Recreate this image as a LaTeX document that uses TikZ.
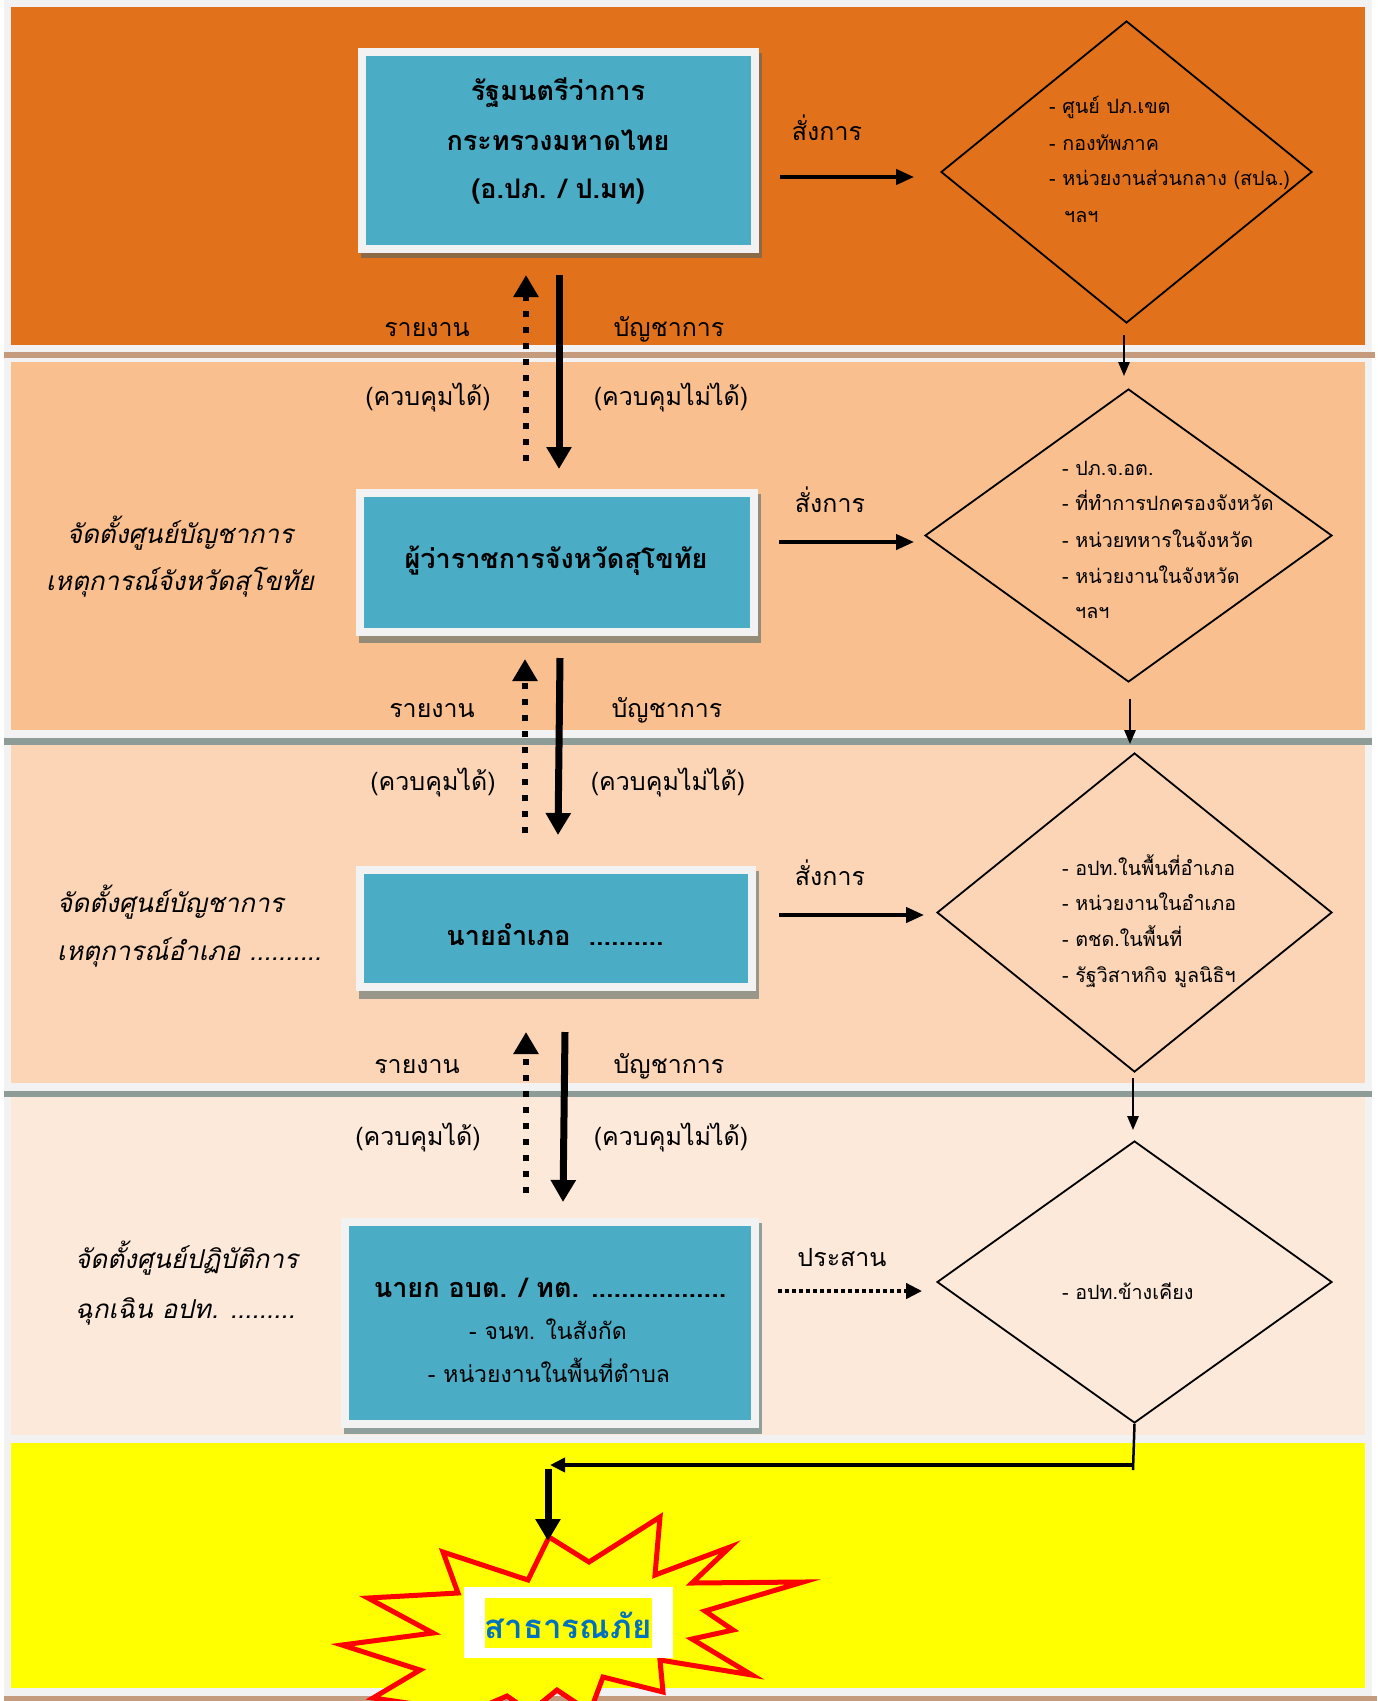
\documentclass[tikz,border=0pt]{standalone}
\usepackage{fontspec}
\setmainfont[Script=Thai]{Loma}
\usetikzlibrary{arrows.meta,shapes.geometric,calc}
\definecolor{bandA}{HTML}{E1711A}
\definecolor{bandB}{HTML}{F9BF8F}
\definecolor{bandC}{HTML}{FBD5B5}
\definecolor{bandD}{HTML}{FDE9D9}
\definecolor{bandE}{HTML}{FFFF00}
\definecolor{framec}{HTML}{F2F2F2}
\definecolor{shadbrown}{HTML}{C49B7C}
\definecolor{shadgray}{HTML}{8E9C98}
\definecolor{boxblue}{HTML}{4BACC6}
\definecolor{bshA}{HTML}{8C6A48}
\definecolor{bshB}{HTML}{958C78}
\definecolor{bshC}{HTML}{98978A}
\definecolor{bshD}{HTML}{8E9F9C}
\definecolor{starblue}{HTML}{0070C0}
\definecolor{starred}{HTML}{FF0000}
\begin{document}
\begin{tikzpicture}[x=1pt,y=-1pt,
  bluebox/.style={draw=framec, line width=8pt, fill=boxblue, inner sep=0pt},
  dia/.style={diamond, draw=black, line width=1.8pt, inner sep=0pt},
  boxtxt/.style={anchor=base, inner sep=0pt, font=\fontsize{27}{32}\selectfont\bfseries},
  subtxt/.style={anchor=base, inner sep=0pt, font=\fontsize{23}{27}\selectfont},
  lbl/.style={anchor=base, inner sep=0pt, font=\fontsize{25}{29}\selectfont},
  dtxt/.style={anchor=base west, inner sep=0pt, font=\fontsize{19.7}{23}\selectfont},
  sidec/.style={anchor=base, inner sep=0pt, font=\fontsize{26}{30}\selectfont\itshape},
  sidel/.style={anchor=base west, inner sep=0pt, font=\fontsize{26}{30}\selectfont\itshape},
  cmdarr/.style={line width=4pt, -{Triangle[length=18pt,width=15pt]}},
  coordarr/.style={line width=4pt, dash pattern=on 4pt off 3pt, -{Triangle[length=16pt,width=15pt]}},
  vcmd/.style={line width=7pt, -{Triangle[length=22pt,width=24pt]}},
  vrep/.style={line width=6pt, dash pattern=on 6pt off 10pt, -{Triangle[length=22pt,width=24pt]}},
  darr/.style={line width=2.5pt, -{Triangle[length=14pt,width=11pt]}}
]
\useasboundingbox (0,0) rectangle (1377,1701);
\clip (0,0) rectangle (1377,1701);
\fill[white] (0,0) rectangle (1377,1701);
% bands
\fill[framec] (4,0) rectangle (1372,352);
\fill[bandA] (11,7) rectangle (1365,345);
\fill[shadbrown] (4,352) rectangle (1375,358);
\fill[framec] (4,358) rectangle (1372,738);
\fill[bandB] (11,362) rectangle (1365,730);
\fill[shadgray] (4,738) rectangle (1372,745);
\fill[framec] (4,745) rectangle (1372,1091);
\fill[bandC] (11,745) rectangle (1365,1083);
\fill[shadgray] (4,1091) rectangle (1372,1097);
\fill[framec] (4,1097) rectangle (1372,1443);
\fill[bandD] (11,1097) rectangle (1365,1435);
\fill[framec] (4,1443) rectangle (1372,1696);
\fill[bandE] (11,1443) rectangle (1365,1688);
\fill[shadbrown] (4,1696) rectangle (1377,1701);
% box shadows
\fill[bshA] (361,53) rectangle (762,258);
\fill[bshB] (359,494) rectangle (761,643);
\fill[bshC] (359,871) rectangle (759,999);
\fill[bshD] (344,1223) rectangle (762,1434);
% boxes
\node[bluebox, minimum width=393pt, minimum height=197pt] (b1) at (558.5,150.5) {};
\node[bluebox, minimum width=394pt, minimum height=139pt] (b2) at (557,562.5) {};
\node[bluebox, minimum width=392pt, minimum height=117pt] (b3) at (556,928.5) {};
\node[bluebox, minimum width=410pt, minimum height=202pt] (b4) at (550,1323) {};
% box texts
\node[boxtxt] (b1l1) at (558,100) {รัฐมนตรีว่าการ};
\node[boxtxt] (b1l2) at (558,150) {กระทรวงมหาดไทย};
\node[boxtxt] (b1l3) at (558,198) {(อ.ปภ. / ป.มท)};
\node[boxtxt] (b2l1) at (556,568) {ผู้ว่าราชการจังหวัดสุโขทัย};
\node[boxtxt] (b3l1) at (555,945) {นายอำเภอ\ \ ..........};
\node[boxtxt] (b4l1) at (550,1297) {นายก อบต. / ทต. ..................};
\node[subtxt] (b4l2) at (548,1339) {- จนท. ในสังกัด};
\node[subtxt] (b4l3) at (549,1382) {- หน่วยงานในพื้นที่ตำบล};
% diamonds
\node[dia, minimum width=371pt, minimum height=302pt] (d1) at (1126.5,172) {};
\node[dia, minimum width=407pt, minimum height=293pt] (d2) at (1128.5,535.5) {};
\node[dia, minimum width=395pt, minimum height=319pt] (d3) at (1134.5,912.5) {};
\node[dia, minimum width=395pt, minimum height=282pt] (d4) at (1134.5,1282) {};
% diamond texts
\node[dtxt] (d1a) at (1049,113) {- ศูนย์ ปภ.เขต};
\node[dtxt] (d1b) at (1049,150) {- กองทัพภาค};
\node[dtxt] (d1c) at (1049,185) {- หน่วยงานส่วนกลาง (สปฉ.)};
\node[dtxt] (d1d) at (1064,222) {ฯลฯ};
\node[dtxt] (d2a) at (1062,475) {- ปภ.จ.อต.};
\node[dtxt] (d2b) at (1062,510) {- ที่ทำการปกครองจังหวัด};
\node[dtxt] (d2c) at (1062,547) {- หน่วยทหารในจังหวัด};
\node[dtxt] (d2d) at (1062,583) {- หน่วยงานในจังหวัด};
\node[dtxt] (d2e) at (1075,618) {ฯลฯ};
\node[dtxt] (d3a) at (1062,875) {- อปท.ในพื้นที่อำเภอ};
\node[dtxt] (d3b) at (1062,910) {- หน่วยงานในอำเภอ};
\node[dtxt] (d3c) at (1062,946) {- ตชด.ในพื้นที่};
\node[dtxt] (d3d) at (1062,982) {- รัฐวิสาหกิจ มูลนิธิฯ};
\node[dtxt] (d4a) at (1062,1299) {- อปท.ข้างเคียง};
% side labels
\node[sidec] (s2a) at (180,543) {จัดตั้งศูนย์บัญชาการ};
\node[sidec] (s2b) at (180,590) {เหตุการณ์จังหวัดสุโขทัย};
\node[sidel] (s3a) at (57,912) {จัดตั้งศูนย์บัญชาการ};
\node[sidel] (s3b) at (57,960) {เหตุการณ์อำเภอ ..........};
\node[sidel] (s4a) at (75,1268) {จัดตั้งศูนย์ปฏิบัติการ};
\node[sidel] (s4b) at (75,1318) {ฉุกเฉิน อปท. .........};
% arrow labels
\node[lbl] (r1) at (427,336) {รายงาน};
\node[lbl] (c1) at (669,336) {บัญชาการ};
\node[lbl] (k1) at (428,405) {(ควบคุมได้)};
\node[lbl] (n1) at (671,405) {(ควบคุมไม่ได้)};
\node[lbl] (r2) at (432,717) {รายงาน};
\node[lbl] (c2) at (667,717) {บัญชาการ};
\node[lbl] (k2) at (433,790) {(ควบคุมได้)};
\node[lbl] (n2) at (668,790) {(ควบคุมไม่ได้)};
\node[lbl] (r3) at (417,1073) {รายงาน};
\node[lbl] (c3) at (669,1073) {บัญชาการ};
\node[lbl] (k3) at (418,1145) {(ควบคุมได้)};
\node[lbl] (n3) at (671,1145) {(ควบคุมไม่ได้)};
\node[lbl] (o1) at (827,140) {สั่งการ};
\node[lbl] (o2) at (830,512) {สั่งการ};
\node[lbl] (o3) at (830,885) {สั่งการ};
\node[lbl] (p4) at (842,1266) {ประสาน};
% horizontal arrows
\draw[cmdarr] ($(b1.east)+(21,26.5)$) -- ($(d1.west)+(-26,5)$);
\draw[cmdarr] ($(b2.east)+(21,-20.5)$) -- ($(d2.west)+(-10,6.5)$);
\draw[cmdarr] ($(b3.east)+(23,-13.5)$) -- ($(d3.west)+(-12,2.5)$);
\draw[coordarr] ($(b4.east)+(19,-32)$) -- ($(d4.west)+(-14,9)$);
% vertical arrows
\draw[vcmd] ($(b1.south)+(0.5,22)$) -- ($(b2.north)+(2,-20)$);
\draw[vrep] ($(b2.north)+(-31,-28)$) -- ($(b1.south)+(-32.5,22)$);
\draw[vcmd] ($(b2.south)+(3,22)$) -- ($(b3.north)+(2,-31)$);
\draw[vrep] ($(b3.north)+(-31,-33)$) -- ($(b2.south)+(-32,23)$);
\draw[vcmd] ($(b3.south)+(9,41)$) -- ($(b4.north)+(13,-16)$);
\draw[vrep] ($(b4.north)+(-24,-25)$) -- ($(b3.south)+(-30,41)$);
% diamond chain
\draw[darr] ($(d1.south)+(-2.5,11)$) -- ($(d2.north)+(-4.5,-12)$);
\draw[darr] ($(d2.south)+(1.5,16)$) -- ($(d3.north)+(-4.5,-8)$);
\draw[darr] ($(d3.south)+(-1.5,5)$) -- ($(d4.north)+(-1.5,-10)$);
% star
\filldraw[fill=bandE, draw=starred, line width=5pt, miter limit=20]
  (549,1537) -- (589,1562) -- (660,1517) -- (655,1575) -- (730,1547) -- (692,1583)
  -- (803,1582) -- (705,1611) -- (733,1630) -- (692,1639) -- (752,1675) -- (660,1660)
  -- (663,1692) -- (603,1677) -- (590,1712) -- (557,1690) -- (530,1712) -- (507,1696)
  -- (470,1712) -- (373,1698) -- (420,1670) -- (342,1645) -- (433,1633) -- (368,1598)
  -- (458,1593) -- (443,1552) -- (528,1580) -- cycle;
\node[fill=white, minimum width=209pt, minimum height=71pt, inner sep=0pt] (dbox) at (568.5,1622.5) {};
\node[fill=bandE, minimum width=167pt, minimum height=50pt, inner sep=0pt] (dhl) at (568.5,1623) {};
\node[anchor=base, inner sep=0pt, text=starblue, font=\fontsize{33}{38}\selectfont\bfseries] (dtext) at (568,1638) {สาธารณภัย};
% bottom connectors
\coordinate (turnR) at (1133,1470);
\coordinate (hR) at (1133,1465);
\coordinate (hL) at (550,1465);
\coordinate (vtop) at (548,1469);
\coordinate (startop) at (548,1541);
\draw[line width=2.5pt] (d4.south) -- (turnR);
\draw[line width=4pt, -{Triangle[length=15pt,width=14pt]}] (hR) -- (hL);
\draw[vcmd] (vtop) -- (startop);
\end{tikzpicture}
\end{document}
